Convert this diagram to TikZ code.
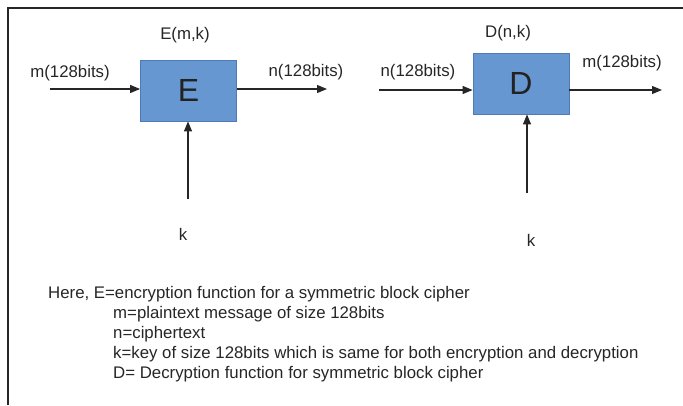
\documentclass[tikz,border=0pt]{standalone}
\usepackage{fontspec}
\setmainfont{Liberation Sans}
\usetikzlibrary{arrows.meta}
\definecolor{boxfill}{HTML}{6797D0}
\definecolor{boxline}{HTML}{4F7BB5}
\definecolor{ink}{HTML}{262626}
\begin{document}
\begin{tikzpicture}[x=1pt,y=-1pt,
  cipherbox/.style={draw=boxline,fill=boxfill,line width=0.8pt,minimum width=96pt,minimum height=61pt,inner sep=0pt,font=\fontsize{32}{32}\selectfont,text=ink!90!black},
  lbl/.style={inner sep=0pt,font=\fontsize{16.8}{16.8}\selectfont,text=ink},
  flow/.style={draw=ink,line width=1.1pt,-{Triangle[length=10pt,width=8pt]}},
  frame/.style={draw=ink,line width=1.8pt}]
\useasboundingbox (0,0) rectangle (683,405);
% frame
\coordinate (ftl) at (8,8);
\coordinate (fr) at (683,8);
\coordinate (fb) at (8,405);
\draw[frame] (fb) -- (ftl) -- (fr);

% encryption block
\node[cipherbox] (E) at (188.5,90.5) {E};
\node[lbl] (Elbl) at (185,35) {E(m,k)};
\coordinate (min) at (50,89);
\node[lbl] (mlbl) at (70,73) {m(128bits)};
\coordinate (nout) at (327,89);
\node[lbl] (nlbl) at (306,72) {n(128bits)};
\coordinate (kE) at (188,199);
\node[lbl] (kElbl) at (183,234) {k};
\draw[flow] (min) -- (min -| E.west);
\draw[flow] (nout -| E.east) -- (nout);
\draw[flow] (kE) -- (kE |- E.south);

% decryption block
\node[cipherbox] (D) at (521,83.5) {D};
\node[lbl] (Dlbl) at (508,33) {D(n,k)};
\coordinate (nin) at (379,90);
\node[lbl] (nlbl2) at (418,72) {n(128bits)};
\coordinate (mout) at (662,90);
\node[lbl] (mlbl2) at (622,63) {m(128bits)};
\coordinate (kD) at (527,193);
\node[lbl] (kDlbl) at (531,240) {k};
\draw[flow] (nin) -- (nin -| D.west);
\draw[flow] (mout -| D.east) -- (mout);
\draw[flow] (kD) -- (kD |- D.south);

% legend
\node[lbl,anchor=base west] (l1) at (48,298) {Here, E=encryption function for a symmetric block cipher};
\node[lbl,anchor=base west] (l2) at (113,318) {m=plaintext message of size 128bits};
\node[lbl,anchor=base west] (l3) at (113,338) {n=ciphertext};
\node[lbl,anchor=base west] (l4) at (113,358) {k=key of size 128bits which is same for both encryption and decryption};
\node[lbl,anchor=base west] (l5) at (113,378) {D= Decryption function for symmetric block cipher};
\end{tikzpicture}
\end{document}
